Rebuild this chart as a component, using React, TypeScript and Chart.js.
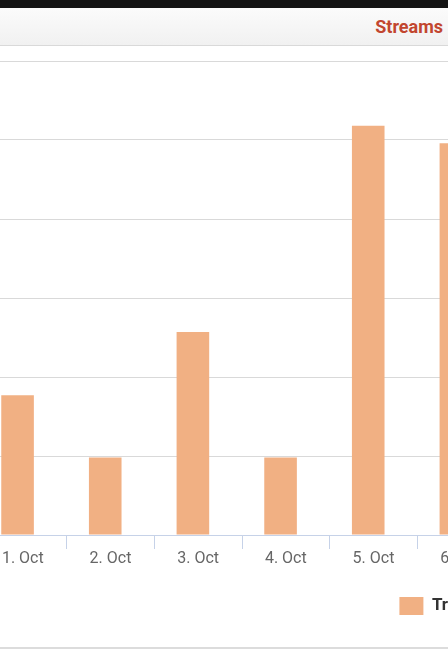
import React, { useEffect, useRef } from "react";
import { Chart, registerables } from "chart.js";

Chart.register(...registerables);

const categories = ["1. Oct", "2. Oct", "3. Oct", "4. Oct", "5. Oct", "6. Oct"];
const seriesName = "Tracks";
const seriesValues = [8.85, 4.9, 12.85, 4.9, 25.9, 24.8];
const emptyValues = [null, null, null, null, null, null];
const headerTitle = "Streams";

const CANVAS_LEFT = -21;
const CANVAS_TOP = 47;
const CANVAS_W = 925;
const CANVAS_H = 600;
const PLOT_RIGHT = 526;

export default function App() {
  const ref = useRef<HTMLCanvasElement | null>(null);

  useEffect(() => {
    document.body.style.margin = "0";
    const ctx = ref.current;
    if (!ctx) return;
    const chart = new Chart(ctx, {
      type: "bar",
      data: {
        labels: categories,
        datasets: [
          {
            label: seriesName,
            data: seriesValues,
            backgroundColor: "#f1b083",
            borderWidth: 0,
            categoryPercentage: 0.2405,
            barPercentage: 3.093,
          },
          {
            label: "",
            data: emptyValues as any,
            backgroundColor: "rgba(0,0,0,0)",
            borderWidth: 0,
            categoryPercentage: 0.2405,
            barPercentage: 3.093,
          },
        ],
      },
      options: {
        animation: false,
        responsive: false,
        maintainAspectRatio: false,
        devicePixelRatio: 1,
        layout: { padding: { top: 14, bottom: 22, left: 0, right: 0 } },
        plugins: {
          tooltip: { enabled: false },
          legend: {
            display: true,
            position: "bottom",
            align: "center",
            labels: {
              filter: (item: any) => item.text !== "",
              boxWidth: 24,
              boxHeight: 18,
              padding: 10,
              color: "#333333",
              font: { family: "Roboto", size: 17, weight: "bold" },
            },
          },
        },
        scales: {
          x: {
            type: "category",
            offset: true,
            grid: {
              offset: true,
              drawOnChartArea: false,
              drawTicks: true,
              tickLength: 14,
              color: "#c6d2e8",
            },
            border: { display: true, color: "#c6d2e8", width: 1 },
            ticks: {
              color: "#666666",
              padding: 0,
              maxRotation: 0,
              autoSkip: false,
              font: { family: "Roboto", size: 16 },
            },
            afterFit: (scale: any) => {
              scale.height = 52;
            },
          },
          y: {
            position: "right",
            min: 0,
            max: 30,
            ticks: { display: false, stepSize: 5 },
            grid: { color: "#d9d9d9", drawTicks: false, lineWidth: 1 },
            border: { display: false },
            afterFit: (scale: any) => {
              scale.width = CANVAS_W - PLOT_RIGHT;
            },
          },
        },
      },
    });
    return () => chart.destroy();
  }, []);

  return (
    <div
      style={{
        position: "fixed",
        left: 0,
        top: 0,
        width: 448,
        height: 672,
        overflow: "hidden",
        background: "#ffffff",
        fontFamily: "Roboto, sans-serif",
      }}
    >
      <div style={{ position: "absolute", left: 0, top: 0, width: 448, height: 8, background: "#141414" }} />
      <div
        style={{
          position: "absolute",
          left: 0,
          top: 8,
          width: 448,
          height: 38,
          background: "linear-gradient(#fbfbfb, #f1f1f1)",
          borderBottom: "1px solid #d9d9d9",
          boxSizing: "border-box",
        }}
      >
        <div
          style={{
            position: "absolute",
            right: 5,
            top: 0,
            lineHeight: "37px",
            fontSize: 18,
            fontWeight: 700,
            color: "#c2462f",
            whiteSpace: "nowrap",
          }}
        >
          {headerTitle}
        </div>
      </div>
      <div
        style={{
          position: "absolute",
          left: CANVAS_LEFT,
          top: CANVAS_TOP,
          width: CANVAS_W,
          height: CANVAS_H,
        }}
      >
        <canvas ref={ref} width={CANVAS_W} height={CANVAS_H} style={{ display: "block" }} />
      </div>
      <div style={{ position: "absolute", left: 0, top: 647, width: 448, height: 2, background: "#dcdcdc" }} />
    </div>
  );
}
